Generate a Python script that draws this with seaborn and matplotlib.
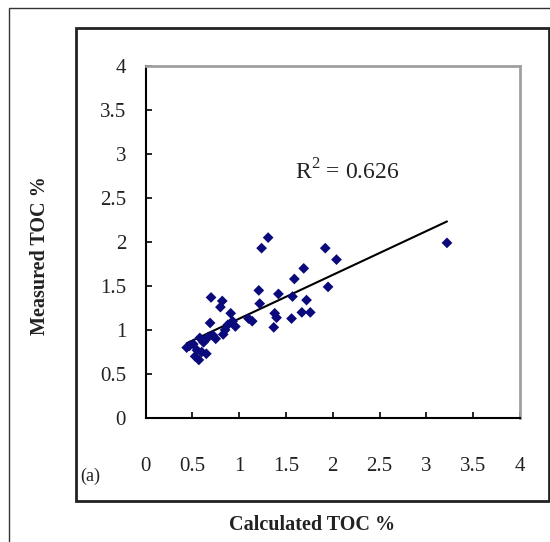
import numpy as np
import pandas as pd
import matplotlib
matplotlib.use("Agg")
import matplotlib.pyplot as plt
from matplotlib.patches import Rectangle
import seaborn as sns

# Calculated vs measured TOC (%) for the sample set
calculated_toc = [0.44, 0.47, 0.51, 0.53, 0.55, 0.57, 0.58, 0.60, 0.62, 0.64,
                  0.65, 0.67, 0.69, 0.70, 0.72, 0.75, 0.80, 0.82, 0.83, 0.85,
                  0.88, 0.91, 0.93, 0.96, 1.10, 1.14, 1.21, 1.22, 1.24, 1.31,
                  1.37, 1.38, 1.40, 1.42, 1.56, 1.57, 1.59, 1.67, 1.69, 1.72,
                  1.76, 1.92, 1.95, 2.04, 3.22]
measured_toc = [0.80, 0.82, 0.84, 0.70, 0.77, 0.66, 0.91, 0.75, 0.86, 0.89,
                0.73, 0.92, 1.08, 1.37, 0.94, 0.90, 1.26, 1.33, 0.95, 1.00,
                1.06, 1.19, 1.10, 1.04, 1.13, 1.10, 1.45, 1.30, 1.93, 2.05,
                1.03, 1.19, 1.14, 1.41, 1.13, 1.38, 1.58, 1.20, 1.70, 1.34,
                1.20, 1.93, 1.49, 1.80, 1.99]
tick_values = [0, 0.5, 1, 1.5, 2, 2.5, 3, 3.5, 4]
tick_labels = ["0", "0.5", "1", "1.5", "2", "2.5", "3", "3.5", "4"]
r2_label = "R$^2$ = 0.626"

df = pd.DataFrame({"calc": calculated_toc, "meas": measured_toc})

sns.set_theme(style="ticks")
plt.rcParams["font.family"] = ["Liberation Serif", "DejaVu Serif"]
plt.rcParams["mathtext.fontset"] = "custom"
plt.rcParams["mathtext.rm"] = "Liberation Serif"

W, H = 550, 542
fig = plt.figure(figsize=(W / 100, H / 100), dpi=100)
fig.patch.set_facecolor("white")


def fx(px):
    return px / W


def fy(py):
    return 1 - py / H


# outer frame (only left/top edges fall inside the canvas)
fig.patches.append(Rectangle((fx(9), fy(600)), fx(600) - fx(9), fy(8) - fy(600),
                             transform=fig.transFigure, fill=False,
                             edgecolor="#333333", linewidth=1.0, zorder=0))
# inner chart frame
fig.patches.append(Rectangle((fx(76), fy(501)), fx(549) - fx(76), fy(28) - fy(501),
                             transform=fig.transFigure, fill=False,
                             edgecolor="#222222", linewidth=2.0, zorder=0))

ax = fig.add_axes([fx(145.5), fy(418), fx(520) - fx(145.5), fy(66) - fy(418)])
ax.set_facecolor("white")

sns.regplot(data=df, x="calc", y="meas", ax=ax, ci=None, truncate=True,
            marker="D",
            scatter_kws=dict(s=30, color="#0a0a7c", alpha=1.0, edgecolor="none", zorder=3),
            line_kws=dict(color="black", linewidth=1.5, zorder=2))

ax.set_xlim(0, 4)
ax.set_ylim(0, 4)
ax.set_xticks(tick_values)
ax.set_xticklabels(tick_labels)
ax.set_yticks(tick_values)
ax.set_yticklabels(tick_labels)
ax.tick_params(axis="both", direction="in", length=4, width=1.2, colors="black",
               labelsize=15, labelcolor="#222222")
ax.tick_params(axis="x", pad=28)
ax.tick_params(axis="y", pad=14)

for side in ["left", "bottom"]:
    ax.spines[side].set_color("black")
    ax.spines[side].set_linewidth(1.5)
for side in ["top", "right"]:
    ax.spines[side].set_color("#a0a0a0")
    ax.spines[side].set_linewidth(2.0)
    ax.spines[side].set_visible(True)

ax.set_xlabel("Calculated TOC %", fontsize=14.5, fontweight="bold", color="#222222")
ax.xaxis.set_label_coords(fx(312), fy(525), transform=fig.transFigure)
ax.set_ylabel("Measured TOC %", fontsize=14.5, fontweight="bold", color="#222222")
ax.yaxis.set_label_coords(fx(40), fy(256), transform=fig.transFigure)
ax.xaxis.label.set_va("center")
ax.yaxis.label.set_va("center")

ax.text(2.16, 2.8, r2_label, fontsize=17, color="#222222", ha="center", va="center")

fig.text(fx(90), fy(476), "(a)", fontsize=13, color="#222222", ha="center", va="center")

fig.savefig("out.png", dpi=100, facecolor="white")
